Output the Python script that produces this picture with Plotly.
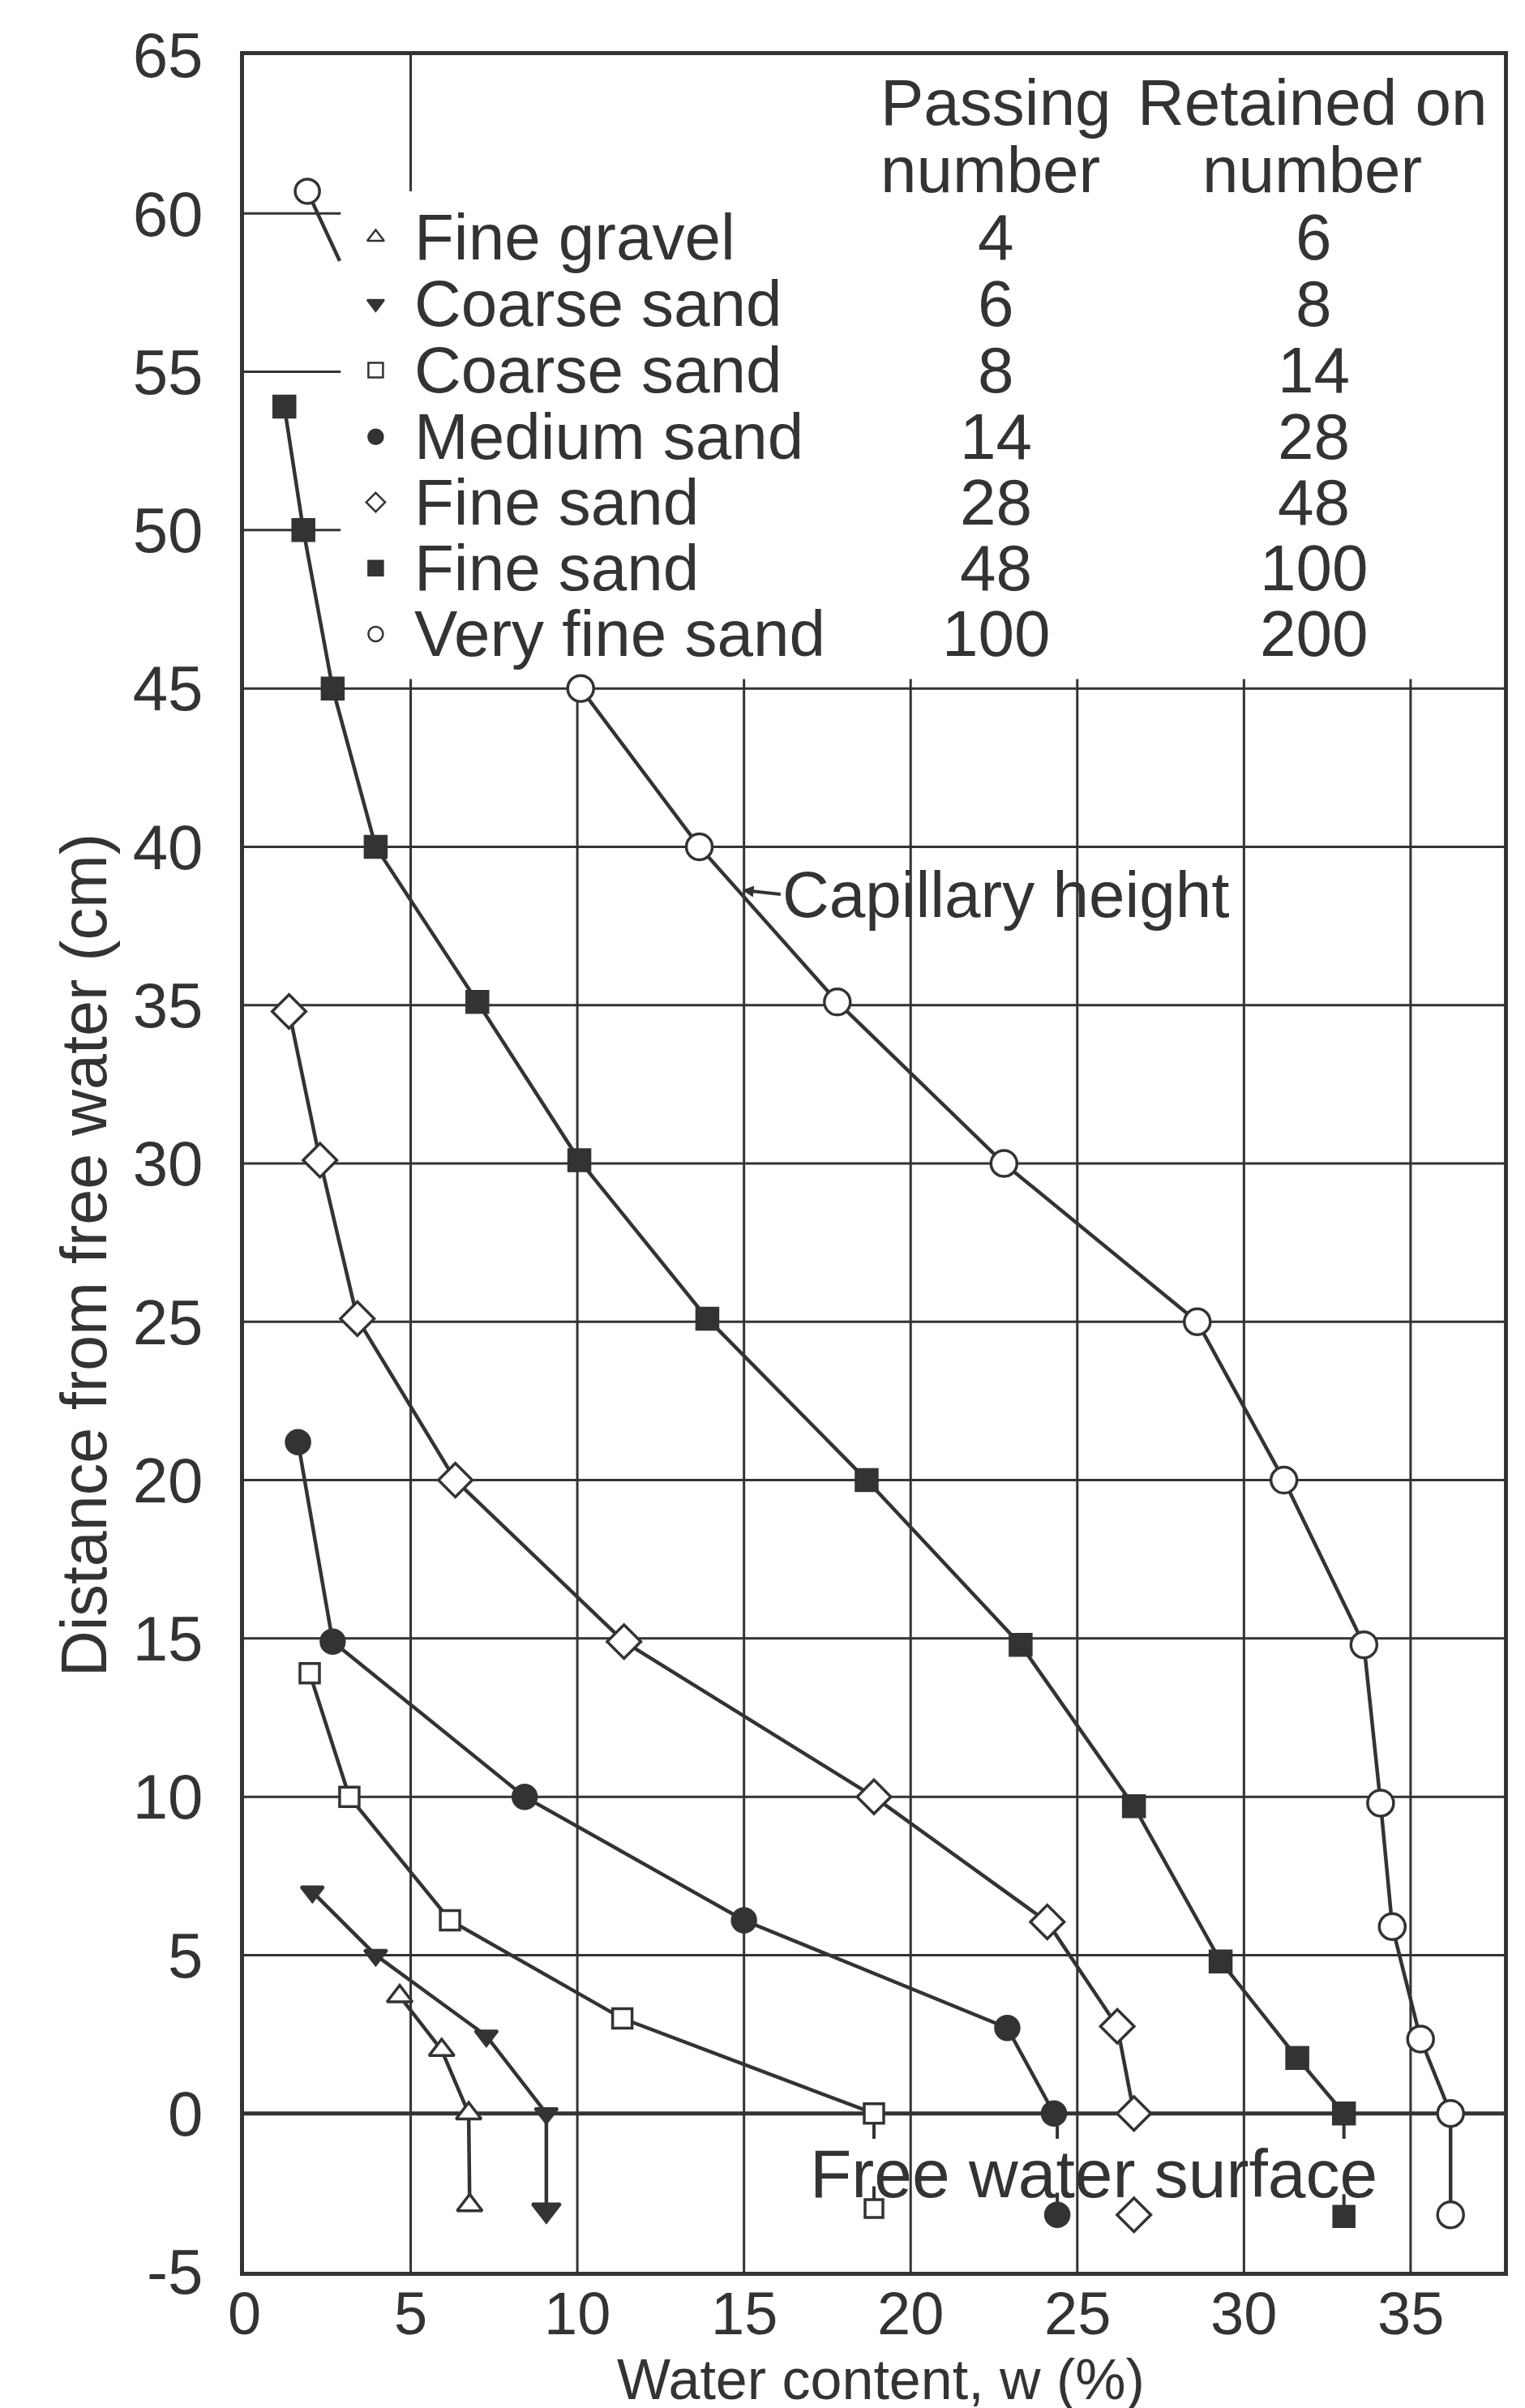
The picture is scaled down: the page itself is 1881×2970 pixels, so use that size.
import plotly.graph_objects as go

# ---- data ----
# fine gravel (passing 4, retained 6)
gravel_x = [4.67, 5.93, 6.74, 6.77]
gravel_y = [3.7, 2.0, 0.0, -2.9]
# coarse sand (6 - 8)
cs1_x = [2.05, 3.95, 7.27, 9.07, 9.07]
cs1_y = [7.0, 5.0, 2.45, 0.0, -3.05]
# coarse sand (8 - 14)
cs2_x = [1.97, 3.16, 6.18, 11.35, 18.9]
cs2_y = [13.9, 10.0, 6.1, 3.0, 0.0]
# medium sand (14 - 28)
med_x = [1.62, 2.66, 8.42, 15.0, 22.9, 24.3]
med_y = [21.2, 14.9, 10.0, 6.1, 2.7, 0.0]
# fine sand (28 - 48)
fs1_x = [1.35, 2.28, 3.4, 6.34, 11.4, 18.9, 24.1, 26.2, 26.7]
fs1_y = [34.8, 30.1, 25.1, 20.0, 14.9, 10.0, 6.05, 2.75, 0.0]
# fine sand (48 - 100)
fs2_x = [1.21, 1.78, 2.66, 3.95, 7.0, 10.06, 13.9, 18.68, 23.3, 26.7, 29.3, 31.6, 33.0]
fs2_y = [53.9, 50.0, 45.0, 40.0, 35.1, 30.1, 25.1, 20.0, 14.8, 9.7, 4.8, 1.75, 0.0]
# very fine sand (100 - 200)
vfs_x = [10.1, 13.66, 17.8, 22.8, 28.6, 31.2, 33.6, 34.1, 34.45, 35.3, 36.2, 36.2]
vfs_y = [45.0, 40.0, 35.1, 30.0, 25.0, 20.0, 14.8, 9.8, 5.9, 2.35, 0.0, -3.2]
# isolated points below the free water surface
sat_cs2 = (18.9, -3.0)
sat_med = (24.4, -3.2)
sat_fs1 = (26.7, -3.2)
sat_fs2 = (33.0, -3.25)
# stray fragment near the top left
frag_x = [1.9, 2.87]
frag_y = [60.7, 58.5]

# key table
key_names = ["Fine gravel", "Coarse sand", "Coarse sand", "Medium sand",
             "Fine sand", "Fine sand", "Very fine sand"]
key_passing = ["4", "6", "8", "14", "28", "48", "100"]
key_retained = ["6", "8", "14", "28", "48", "100", "200"]
key_rows = [59.25, 57.15, 55.05, 52.95, 50.88, 48.8, 46.72]
key_head = [63.5, 61.38]

x_ticks = [0, 5, 10, 15, 20, 25, 30, 35]
y_ticks = [-5, 0, 5, 10, 15, 20, 25, 30, 35, 40, 45, 50, 55, 60, 65]

INK = "#333333"
FONT = "Liberation Sans, Arial, sans-serif"
X_MAX = 37.8
LW = 4.5
BOTTOM = 176

fig = go.Figure()


def series(x, y, symbol, fill, size, lines=True):
    fig.add_trace(go.Scatter(
        x=x, y=y, mode="lines+markers" if lines else "markers",
        line=dict(color=INK, width=LW),
        marker=dict(symbol=symbol, size=size, color=fill,
                    line=dict(color=INK, width=3.5)),
        showlegend=False, cliponaxis=False,
    ))


# short pins under the points sitting on the free water surface
for sx, sy in (sat_cs2, sat_med, sat_fs2):
    fig.add_trace(go.Scatter(x=[sx, sx], y=[0, -0.8], mode="lines",
                             line=dict(color=INK, width=4), showlegend=False))
    fig.add_trace(go.Scatter(x=[sx, sx], y=[sy, sy + 0.7], mode="lines",
                             line=dict(color=INK, width=4), showlegend=False))

series(gravel_x, gravel_y, "triangle-up", "white", 27)
series(cs1_x[:-1], cs1_y[:-1], "triangle-down", INK, 24)
# arrow under the coarse sand curve
series(cs1_x[-2:], cs1_y[-2:], "triangle-down", INK, 0)
series([cs1_x[-1]], [cs1_y[-1]], "triangle-down", INK, 30, lines=False)
series(cs2_x, cs2_y, "square", "white", 24)
series(med_x, med_y, "circle", INK, 29)
series(fs1_x, fs1_y, "diamond", "white", 32)
series(fs2_x, fs2_y, "square", INK, 26)
series(vfs_x, vfs_y, "circle", "white", 32)

series([sat_cs2[0]], [sat_cs2[1]], "square", "white", 22, lines=False)
series([sat_med[0]], [sat_med[1]], "circle", INK, 29, lines=False)
series([sat_fs1[0]], [sat_fs1[1]], "diamond", "white", 32, lines=False)
series([sat_fs2[0]], [sat_fs2[1]], "square", INK, 25, lines=False)

# fragment at top left
fig.add_trace(go.Scatter(x=frag_x, y=frag_y, mode="lines",
                         line=dict(color=INK, width=LW), showlegend=False))
series(frag_x[:1], frag_y[:1], "circle", "white", 30, lines=False)

# key symbols
key_symbols = ["triangle-up", "triangle-down", "square", "circle",
               "diamond", "square", "circle"]
key_fill = ["white", INK, "white", INK, "white", INK, "white"]
fig.add_trace(go.Scatter(
    x=[3.95] * len(key_rows), y=key_rows, mode="markers",
    marker=dict(symbol=key_symbols, size=18, color=key_fill,
                line=dict(color=INK, width=2.5)),
    showlegend=False,
))

# grid drawn only in the lower part of the chart
shapes = []
for yv in range(0, 50, 5):
    shapes.append(dict(type="line", xref="x", yref="y", x0=0, x1=X_MAX,
                       y0=yv, y1=yv, line=dict(color=INK, width=5 if yv == 0 else 3),
                       layer="below"))
for xv in range(5, 40, 5):
    shapes.append(dict(type="line", xref="x", yref="y", x0=xv, x1=xv,
                       y0=-5, y1=45.3, line=dict(color=INK, width=3),
                       layer="below"))
for yv in (50, 55, 60):
    shapes.append(dict(type="line", xref="x", yref="y", x0=0, x1=2.9,
                       y0=yv, y1=yv, line=dict(color=INK, width=3),
                       layer="below"))
shapes.append(dict(type="line", xref="x", yref="y", x0=5, x1=5,
                   y0=60.7, y1=65, line=dict(color=INK, width=3), layer="below"))

annotations = []
txt = dict(family=FONT, size=80, color=INK)
for name, p, r, yv in zip(key_names, key_passing, key_retained, key_rows):
    annotations.append(dict(x=5.05, y=yv, text=name, showarrow=False,
                            xanchor="left", yanchor="middle", font=txt))
    annotations.append(dict(x=22.55, y=yv, text=p, showarrow=False,
                            xanchor="center", yanchor="middle", font=txt))
    annotations.append(dict(x=32.1, y=yv, text=r, showarrow=False,
                            xanchor="center", yanchor="middle", font=txt))
annotations += [
    dict(x=19.05, y=key_head[0], text="Passing", showarrow=False,
         xanchor="left", yanchor="middle", font=txt),
    dict(x=19.05, y=key_head[1], text="number", showarrow=False,
         xanchor="left", yanchor="middle", font=txt),
    dict(x=32.05, y=key_head[0], text="Retained on", showarrow=False,
         xanchor="center", yanchor="middle", font=txt),
    dict(x=32.05, y=key_head[1], text="number", showarrow=False,
         xanchor="center", yanchor="middle", font=txt),
    dict(x=25.5, y=-1.9, text="Free water surface", showarrow=False,
         xanchor="center", yanchor="middle", font=dict(family=FONT, size=84, color=INK)),
    dict(x=14.95, y=38.63, ax=16.1, ay=38.5, axref="x", ayref="y",
         text="Capillary height", showarrow=True, arrowhead=2, arrowsize=0.7,
         arrowwidth=4, arrowcolor=INK, xanchor="left", yanchor="middle",
         font=txt),
    # axis titles
    dict(x=19.1, xref="x", y=0, yref="paper", yanchor="bottom", yshift=-(BOTTOM - 2),
         text="Water content, w (%)", showarrow=False,
         font=dict(family=FONT, size=70, color=INK)),
    dict(x=0, xref="paper", xshift=-198, y=27.1, yref="y", textangle=-90,
         text="Distance from free water (cm)", showarrow=False,
         xanchor="center", yanchor="middle",
         font=dict(family=FONT, size=79, color=INK)),
]
# x tick labels placed on the x scale just under the frame
for v in x_ticks:
    annotations.append(dict(x=v, xref="x", y=0, yref="paper", yanchor="top",
                            yshift=-8, text=str(v), showarrow=False,
                            font=dict(family=FONT, size=74, color=INK)))

fig.update_layout(
    width=1881, height=2970,
    paper_bgcolor="white", plot_bgcolor="white",
    margin=dict(l=293, r=34, t=60, b=BOTTOM),
    shapes=shapes, annotations=annotations,
    font=dict(family=FONT, color=INK),
)
fig.update_xaxes(
    range=[0, X_MAX], tickvals=x_ticks, showticklabels=False,
    showgrid=False, zeroline=False,
    showline=True, linewidth=5, linecolor=INK, mirror=True, ticks="",
)
fig.update_yaxes(
    range=[-5, 65], tickvals=y_ticks, ticktext=[str(v) for v in y_ticks],
    showgrid=False, zeroline=False,
    showline=True, linewidth=5, linecolor=INK, mirror=True, ticks="",
    tickfont=dict(family=FONT, size=78, color=INK), ticklabelstandoff=30,
)

fig.write_html("out.html")
